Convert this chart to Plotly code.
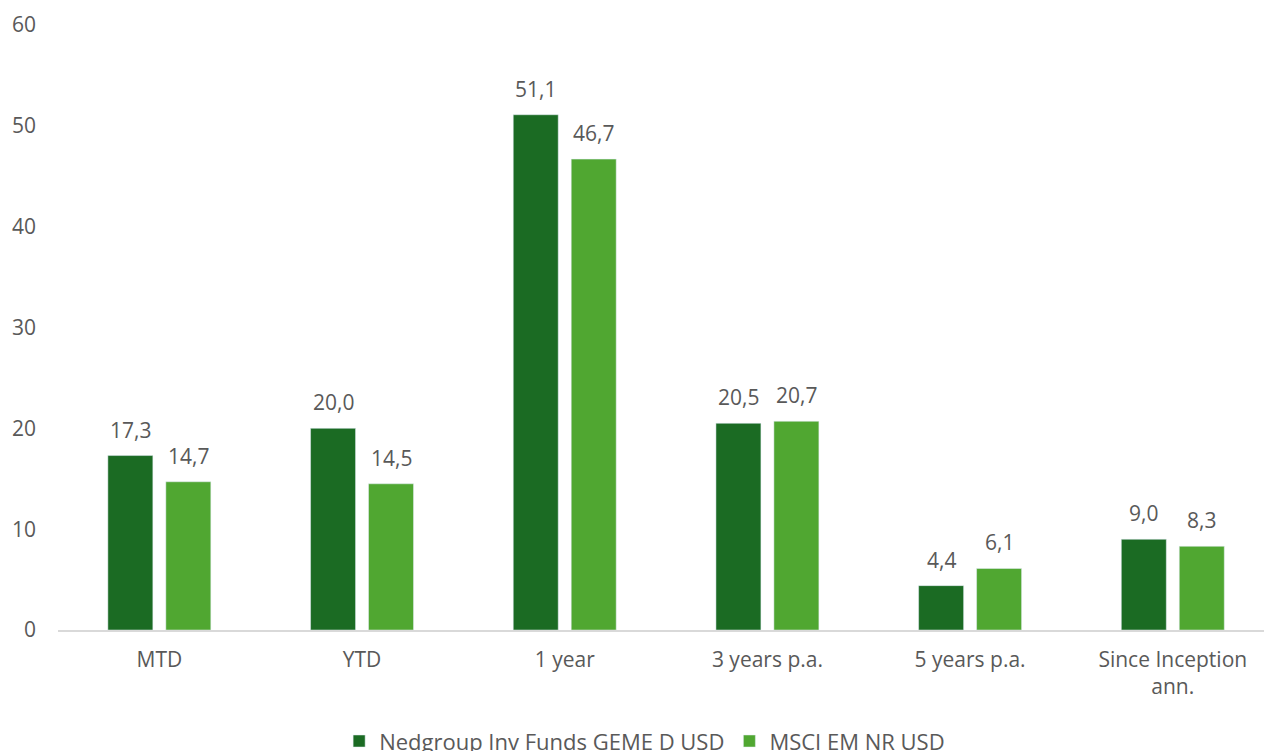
import plotly.graph_objects as go

categories = ["MTD", "YTD", "1 year", "3 years p.a.", "5 years p.a.", "Since Inception<br>ann."]
fund_name = "Nedgroup Inv Funds GEME D USD"
bench_name = "MSCI EM NR USD"
fund_values = [17.3, 20.0, 51.1, 20.5, 4.4, 9.0]
bench_values = [14.7, 14.5, 46.7, 20.7, 6.1, 8.3]
y_ticks = [0, 10, 20, 30, 40, 50, 60]

dark = "#1B6B23"
light = "#50A731"
txt = "#595959"
font_family = "Open Sans, Lato, sans-serif"
fs = 21

fig = go.Figure()
fig.add_trace(go.Bar(x=categories, y=fund_values, name=fund_name, marker_color=dark))
fig.add_trace(go.Bar(x=categories, y=bench_values, name=bench_name, marker_color=light))

def fmt(v):
    return f"{v:.1f}".replace(".", ",")

ann = []
for i, c in enumerate(categories):
    for vals, shift in ((fund_values, -29), (bench_values, 29)):
        ann.append(dict(x=c, y=vals[i], xref="x", yref="y", text=fmt(vals[i]), showarrow=False,
                        xshift=shift, yshift=10, yanchor="bottom",
                        font=dict(size=fs, color=txt, family=font_family)))

fig.update_layout(
    width=1264, height=751,
    margin=dict(l=58, r=0, t=25, b=121),
    plot_bgcolor="white", paper_bgcolor="white",
    barmode="group", bargap=0.428, bargroupgap=0.224,
    font=dict(family=font_family, size=fs, color=txt),
    showlegend=True,
    legend=dict(orientation="h", x=0.51, xref="container", xanchor="center",
                y=0.041, yref="container", yanchor="top",
                font=dict(size=22, color=txt), itemwidth=30, traceorder="normal"),
    annotations=ann,
)
fig.update_xaxes(showline=True, linecolor="#D9D9D9", linewidth=1.5, showgrid=False,
                 automargin=False, ticks="", range=[-0.5, 5.45], ticklabelstandoff=10,
                 tickfont=dict(size=fs, color=txt))
fig.update_yaxes(range=[0, 60], tickvals=y_ticks, showgrid=False, zeroline=False,
                 automargin=False, showline=False, ticks="", ticklabelstandoff=21,
                 tickfont=dict(size=fs, color=txt))

fig.write_html("out.html", config={"displayModeBar": False},
               post_script="document.body.style.margin='0';document.body.style.overflow='hidden';")
